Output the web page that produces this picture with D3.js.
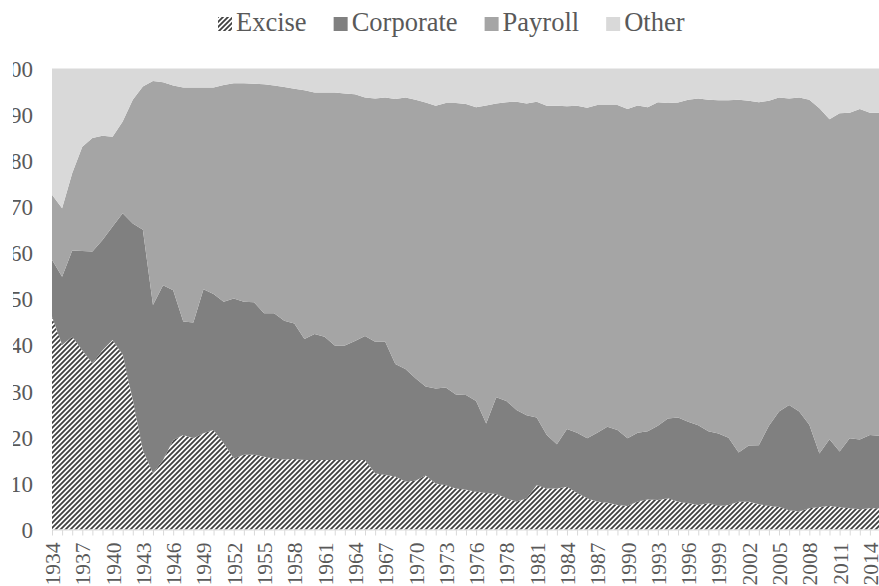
<!DOCTYPE html>
<html>
<head>
<meta charset="utf-8">
<script src="https://cdn.jsdelivr.net/npm/d3@7"></script>
<style>
  body { margin: 0; background: #fff; }
  svg { display: block; }
  svg text { font-family: "Liberation Serif", "Times New Roman", "DejaVu Serif", serif; }
</style>
</head>
<body>
<svg id="chart" width="879" height="586"></svg>
<script>
// categories (TQ = 1976 transition quarter)
const years = [
  '1934', '1935', '1936', '1937', '1938', '1939', '1940', '1941', '1942', '1943',
  '1944', '1945', '1946', '1947', '1948', '1949', '1950', '1951', '1952', '1953',
  '1954', '1955', '1956', '1957', '1958', '1959', '1960', '1961', '1962', '1963',
  '1964', '1965', '1966', '1967', '1968', '1969', '1970', '1971', '1972', '1973',
  '1974', '1975', '1976', 'TQ', '1977', '1978', '1979', '1980', '1981', '1982',
  '1983', '1984', '1985', '1986', '1987', '1988', '1989', '1990', '1991', '1992',
  '1993', '1994', '1995', '1996', '1997', '1998', '1999', '2000', '2001', '2002',
  '2003', '2004', '2005', '2006', '2007', '2008', '2009', '2010', '2011', '2012',
  '2013', '2014', '2015'
];

// share of receipts, percent
const excise = [
  46.2, 40.0, 41.8, 38.9, 36.0, 38.9, 41.1, 37.9, 28.1, 17.2,
  12.2, 15.1, 19.4, 20.5, 19.8, 20.9, 21.6, 18.7, 15.4, 16.2,
  16.2, 15.8, 15.4, 15.2, 15.3, 15.1, 15.1, 15.1, 15.1, 15.1,
  15.1, 15.1, 12.2, 11.8, 11.5, 10.4, 10.6, 11.7, 10.0, 9.6,
  8.9, 8.6, 8.2, 7.9, 7.7, 6.8, 6.0, 6.8, 9.6, 8.9,
  8.9, 9.3, 7.9, 6.8, 6.0, 5.8, 5.3, 5.1, 6.1, 6.5,
  6.4, 6.8, 6.0, 5.7, 5.3, 5.7, 5.1, 5.3, 6.0, 6.0,
  5.5, 5.1, 4.9, 4.2, 3.9, 4.6, 4.9, 5.1, 4.8, 4.6,
  4.4, 4.6, 4.6
];
const corporate = [
  12.3, 14.8, 18.7, 21.5, 24.3, 23.9, 24.6, 30.7, 38.3, 47.8,
  36.5, 37.9, 32.5, 24.6, 25.1, 31.2, 29.5, 30.7, 34.7, 33.2,
  33.1, 31.1, 31.5, 30.1, 29.4, 26.2, 27.3, 26.7, 24.8, 24.8,
  25.8, 26.9, 28.5, 28.9, 24.4, 24.4, 22.2, 19.3, 20.6, 21.2,
  20.4, 20.6, 19.7, 15.1, 21.0, 21.1, 19.9, 18.0, 14.7, 11.6,
  9.6, 12.5, 13.1, 13.0, 15.0, 16.5, 16.3, 14.7, 14.9, 14.8,
  16.1, 17.3, 18.3, 17.7, 17.3, 15.6, 15.7, 14.6, 10.7, 12.2,
  12.8, 17.4, 20.7, 22.8, 21.7, 18.1, 11.6, 14.5, 12.1, 15.2,
  15.1, 15.9, 15.7
];
const payroll = [
  14.1, 14.9, 16.8, 22.6, 24.6, 22.6, 19.5, 19.9, 26.8, 31.1,
  48.6, 44.0, 44.4, 50.8, 51.0, 43.8, 44.8, 47.0, 46.7, 47.4,
  47.4, 49.7, 49.4, 50.7, 50.9, 54.0, 52.4, 53.0, 54.9, 54.7,
  53.5, 51.7, 52.8, 53.0, 57.5, 58.9, 60.4, 61.6, 61.3, 61.7,
  63.2, 63.1, 63.7, 69.0, 63.7, 64.8, 66.9, 67.6, 68.5, 71.4,
  73.4, 70.0, 70.9, 71.7, 71.1, 69.8, 70.5, 71.4, 71.0, 70.3,
  70.2, 68.4, 68.3, 69.8, 70.9, 71.9, 72.3, 73.2, 76.5, 74.8,
  74.4, 70.5, 68.1, 66.5, 68.1, 70.5, 74.9, 69.4, 73.4, 70.6,
  71.7, 69.9, 70.1
];
const other = [
  27.4, 30.3, 22.7, 17.0, 15.1, 14.6, 14.8, 11.5, 6.8, 3.9,
  2.7, 3.0, 3.7, 4.1, 4.1, 4.1, 4.1, 3.6, 3.2, 3.2,
  3.3, 3.4, 3.7, 4.0, 4.4, 4.7, 5.2, 5.2, 5.2, 5.4,
  5.6, 6.3, 6.5, 6.3, 6.6, 6.3, 6.8, 7.4, 8.1, 7.5,
  7.5, 7.7, 8.4, 8.0, 7.6, 7.3, 7.2, 7.6, 7.2, 8.1,
  8.1, 8.2, 8.1, 8.5, 7.9, 7.9, 7.9, 8.8, 8.0, 8.4,
  7.3, 7.5, 7.4, 6.8, 6.5, 6.8, 6.9, 6.9, 6.8, 7.0,
  7.3, 7.0, 6.3, 6.5, 6.3, 6.8, 8.6, 11.0, 9.7, 9.6,
  8.8, 9.6, 9.6
];

const seriesNames = ['Excise', 'Corporate', 'Payroll', 'Other'];
const yTicks = [0, 10, 20, 30, 40, 50, 60, 70, 80, 90, 100];

const fills = ['url(#hatch)', '#808080', '#a5a5a5', '#d9d9d9'];
const textColor = '#595959';
const serif = '"Liberation Serif", "Times New Roman", "DejaVu Serif", serif';

const svg = d3.select('#chart');

// hatch for excise (wide upward diagonal)
const defs = svg.append('defs');
const hatch = defs.append('pattern')
  .attr('id', 'hatch')
  .attr('patternUnits', 'userSpaceOnUse')
  .attr('width', 5)
  .attr('height', 5);
hatch.append('rect').attr('width', 5).attr('height', 5).attr('fill', '#fff');
hatch.append('path')
  .attr('d', 'M-1,1 L1,-1 M0,5 L5,0 M4,6 L6,4')
  .attr('stroke', '#404040')
  .attr('stroke-width', 1.8);

// the left edge cuts into the y labels, as in the original
defs.append('clipPath').attr('id', 'yclip')
  .append('rect').attr('x', 13).attr('y', 0).attr('width', 60).attr('height', 586);

const rows = years.map((yr, i) => ({
  year: yr,
  Excise: excise[i],
  Corporate: corporate[i],
  Payroll: payroll[i],
  Other: other[i]
}));

const x = d3.scalePoint().domain(years).range([52, 880]);
const y = d3.scaleLinear().domain([0, 100]).range([529.5, 68.5]);

const stacked = d3.stack().keys(seriesNames)(rows);

const area = d3.area()
  .x((d) => x(d.data.year))
  .y0((d) => y(d[0]))
  .y1((d) => y(d[1]));

svg.append('g')
  .selectAll('path')
  .data(stacked)
  .enter()
  .append('path')
  .attr('d', area)
  .attr('fill', (d, i) => fills[i]);

// x axis, label every 3rd category
const xAxis = svg.append('g')
  .attr('transform', `translate(0, ${y(0)})`)
  .call(d3.axisBottom(x)
    .tickSize(6)
    .tickSizeOuter(0)
    .tickFormat((d, i) => (i % 3 === 0 ? d : '')))
  .attr('font-family', serif);

xAxis.select('.domain').attr('stroke', '#d9d9d9');
xAxis.selectAll('.tick line').attr('stroke', '#d9d9d9');
xAxis.selectAll('.tick text')
  .attr('fill', textColor)
  .attr('font-size', '21.5px')
  .attr('text-anchor', 'end')
  .attr('transform', 'translate(0, 13) rotate(-90)')
  .attr('x', 0)
  .attr('y', 0)
  .attr('dy', '0.35em');

// y axis labels
const yAxis = svg.append('g')
  .attr('clip-path', 'url(#yclip)')
  .append('g')
  .attr('transform', 'translate(33, 0)')
  .call(d3.axisLeft(y).tickValues(yTicks).tickSize(0).tickPadding(0))
  .attr('font-family', serif);

yAxis.select('.domain').remove();
yAxis.selectAll('.tick text')
  .attr('fill', textColor)
  .attr('font-size', '23px')
  .attr('dy', '0.34em');

// legend
const legend = svg.append('g').attr('font-family', serif);
let lx = 218;
seriesNames.forEach((name, i) => {
  legend.append('rect')
    .attr('x', lx)
    .attr('y', 17)
    .attr('width', 14)
    .attr('height', 14)
    .attr('fill', fills[i]);
  const t = legend.append('text')
    .attr('x', lx + 18)
    .attr('y', 31)
    .attr('font-size', '26.5px')
    .attr('fill', textColor)
    .text(name);
  lx += 18 + t.node().getComputedTextLength() + 27;
});
</script>
</body>
</html>
